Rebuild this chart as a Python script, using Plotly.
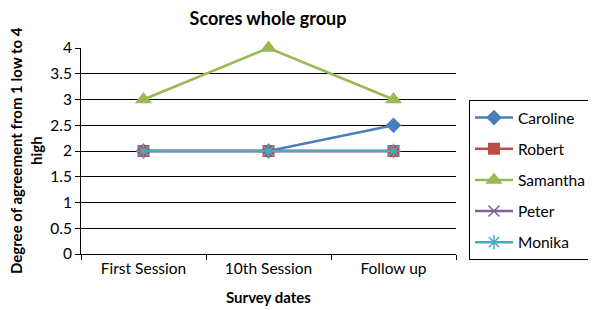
import plotly.graph_objects as go

categories = ["First Session", "10th Session", "Follow up"]
names = ["Caroline", "Robert", "Samantha", "Peter", "Monika"]
caroline = [2, 2, 2.5]
robert = [2, 2, 2]
samantha = [3, 4, 3]
peter = [2, 2, 2]
monika = [2, 2, 2]
y_ticks = [0, 0.5, 1, 1.5, 2, 2.5, 3, 3.5, 4]

series = [caroline, robert, samantha, peter, monika]
colors = ["#4A7EBB", "#BE4B48", "#98B954", "#7D60A0", "#46AAC5"]
symbols = ["diamond", "square", "triangle-up", "x-thin-open", "asterisk-open"]
sizes = [12, 12, 15, 11, 12]

FONT = "Lato, Open Sans, sans-serif"
OFF = 8  # page body offset
W, H = 596 - OFF, 310 - OFF

fig = go.Figure()
for i, (n, s) in enumerate(zip(names, series)):
    mk = dict(symbol=symbols[i], size=sizes[i], color=colors[i])
    if symbols[i].endswith("open"):
        mk["line"] = dict(color=colors[i], width=1.5)
    else:
        mk["line"] = dict(width=0)
    fig.add_trace(go.Scatter(
        x=categories, y=s, name=n, mode="lines+markers",
        line=dict(color=colors[i], width=2.5), marker=mk,
        legendgroup=n, cliponaxis=False,
    ))

fig.update_layout(
    width=W, height=H,
    margin=dict(l=81 - OFF, r=W - (456 - OFF), t=48 - OFF, b=H - (254 - OFF), autoexpand=False),
    paper_bgcolor="white", plot_bgcolor="white",
    font=dict(family=FONT, color="black", size=15.5),
    title=dict(text="<b>Scores whole group</b>", x=(268 - OFF) / W, xanchor="center",
               y=1 - (19 - OFF) / H, yanchor="middle", font=dict(size=18)),
    showlegend=True,
    legend=dict(x=(469 - 81) / 375, xanchor="left", y=(254 - 100) / 206, yanchor="top",
                bordercolor="black", borderwidth=1, tracegroupgap=8,
                font=dict(size=15.5), itemwidth=38),
    annotations=[
        dict(text="<b>Degree of agreement from 1 low to 4<br>high</b>",
             textangle=-90, xref="paper", yref="paper",
             x=-(81 - 26) / 375, y=0.5, xanchor="center", yanchor="middle",
             showarrow=False, font=dict(size=15)),
        dict(text="<b>Survey dates</b>", xref="paper", yref="paper",
             x=0.5, y=-(297 - 254) / 206, xanchor="center", yanchor="middle",
             showarrow=False, font=dict(size=15)),
    ],
)
fig.update_xaxes(
    type="category", range=[-0.5, 2.5], tickson="boundaries",
    ticks="outside", ticklen=5, tickcolor="black", automargin=False,
    showline=True, linecolor="black", linewidth=1,
    showgrid=False, tickfont=dict(size=15.5),
)
fig.update_yaxes(
    range=[0, 4], tickvals=y_ticks, ticktext=[f"{v:g}" for v in y_ticks],
    ticks="outside", ticklen=5, tickcolor="black", automargin=False,
    showline=True, linecolor="black", linewidth=1,
    showgrid=True, gridcolor="black", gridwidth=1, zeroline=False,
    tickfont=dict(size=15.5),
)

fig.write_html("out.html")
